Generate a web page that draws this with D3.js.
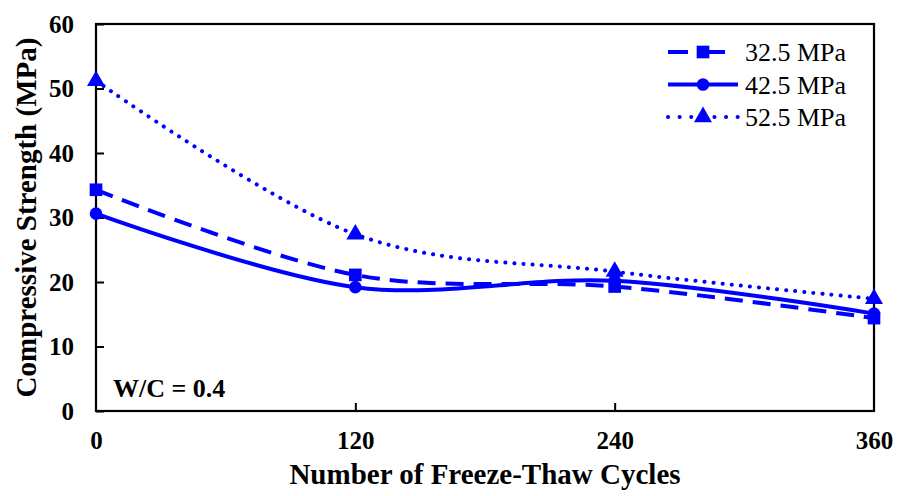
<!DOCTYPE html>
<html>
<head>
<meta charset="utf-8">
<script src="https://cdn.jsdelivr.net/npm/d3@7"></script>
<style>
  body { margin: 0; background: #fff; }
</style>
</head>
<body>
<div class="canvas"></div>
<script>
const cycles = [0, 120, 240, 360]
const seriesNames = ['32.5 MPa', '42.5 MPa', '52.5 MPa']
const s325 = [34.3, 21.1, 19.3, 14.4]
const s425 = [30.6, 19.2, 20.2, 15.1]
const s525 = [51.2, 27.4, 21.6, 17.4]
const yTicks = [0, 10, 20, 30, 40, 50, 60]
const xTicks = [0, 120, 240, 360]

const dims = { width: 898, height: 496 }
const plot = { left: 96, right: 874, top: 24, bottom: 411 }
const blue = '#0000ff'
const serif = 'Liberation Serif'

const svg = d3.select('.canvas')
    .append('svg')
    .attr('width', dims.width)
    .attr('height', dims.height)

const x = d3.scaleLinear().domain([0, 360]).range([plot.left, plot.right])
const y = d3.scaleLinear().domain([0, 60]).range([plot.bottom, plot.top])

// frame
svg.append('rect')
    .attr('x', plot.left)
    .attr('y', plot.top)
    .attr('width', plot.right - plot.left)
    .attr('height', plot.bottom - plot.top)
    .attr('fill', 'none')
    .attr('stroke', '#000')
    .attr('stroke-width', 2.2)

// axes, ticks pointing inside
const yAxis = svg.append('g')
    .attr('transform', `translate(${plot.left},0)`)
    .call(d3.axisLeft(y).tickValues(yTicks).tickSize(-8).tickPadding(22))
const xAxis = svg.append('g')
    .attr('transform', `translate(0,${plot.bottom})`)
    .call(d3.axisBottom(x).tickValues(xTicks).tickSize(-8).tickPadding(20))

;[yAxis, xAxis].forEach(a => {
    a.attr('font-family', serif).attr('font-size', 25)
    a.select('.domain').remove()
    a.selectAll('line').attr('stroke', '#000').attr('stroke-width', 2)
    a.selectAll('text')
        .attr('font-family', serif)
        .attr('font-weight', 'bold')
        .attr('font-size', 25)
        .attr('fill', '#000')
})
xAxis.selectAll('.tick').filter(d => d === 0 || d === 360).select('line').remove()

// axis titles
svg.append('text')
    .text('Number of Freeze-Thaw Cycles')
    .attr('x', (plot.left + plot.right) / 2)
    .attr('y', 484)
    .attr('text-anchor', 'middle')
    .attr('font-family', serif)
    .attr('font-weight', 'bold')
    .attr('font-size', 29)

svg.append('text')
    .text('Compressive Strength (MPa)')
    .attr('transform', `translate(36, ${(plot.top + plot.bottom) / 2}) rotate(-90)`)
    .attr('text-anchor', 'middle')
    .attr('font-family', serif)
    .attr('font-weight', 'bold')
    .attr('font-size', 29)

svg.append('text')
    .text('W/C = 0.4')
    .attr('x', 113)
    .attr('y', 397)
    .attr('font-family', serif)
    .attr('font-weight', 'bold')
    .attr('font-size', 26)

const styles = [
    { dash: '18 10', legendDash: '20 9 100', cap: 'butt', marker: d3.symbolSquare, size: 160 },
    { dash: null, legendDash: null, cap: 'butt', marker: d3.symbolCircle, size: 125 },
    { dash: '0.1 9', legendDash: '0.1 11.5', cap: 'round', marker: d3.symbolTriangle, size: 140 }
]
const allSeries = [s325, s425, s525]

// Excel style smoothed lines
const line = d3.line()
    .x((d, i) => x(cycles[i]))
    .y(d => y(d))
    .curve(d3.curveCardinal.tension(0))

allSeries.forEach((vals, k) => {
    const st = styles[k]
    svg.append('path')
        .attr('d', line(vals))
        .attr('fill', 'none')
        .attr('stroke', blue)
        .attr('stroke-width', 4)
        .attr('stroke-linecap', st.cap)
        .attr('stroke-dasharray', st.dash)

    svg.selectAll(null)
        .data(vals)
        .enter()
        .append('path')
        .attr('d', d3.symbol().type(st.marker).size(st.size))
        .attr('transform', (d, i) => `translate(${x(cycles[i])},${y(d)})`)
        .attr('fill', blue)
})

// legend
const legend = svg.append('g')
seriesNames.forEach((name, k) => {
    const st = styles[k]
    const ly = 52 + k * 32.5
    legend.append('line')
        .attr('x1', 668).attr('x2', k === 0 ? 725 : 738)
        .attr('y1', ly).attr('y2', ly)
        .attr('stroke', blue)
        .attr('stroke-width', 4)
        .attr('stroke-linecap', st.cap)
        .attr('stroke-dasharray', st.legendDash)
    legend.append('path')
        .attr('d', d3.symbol().type(st.marker).size(st.size))
        .attr('transform', `translate(703,${ly})`)
        .attr('fill', blue)
    legend.append('text')
        .text(name)
        .attr('x', 745)
        .attr('y', ly + 9)
        .attr('font-family', serif)
        .attr('font-size', 26)
})
</script>
</body>
</html>
